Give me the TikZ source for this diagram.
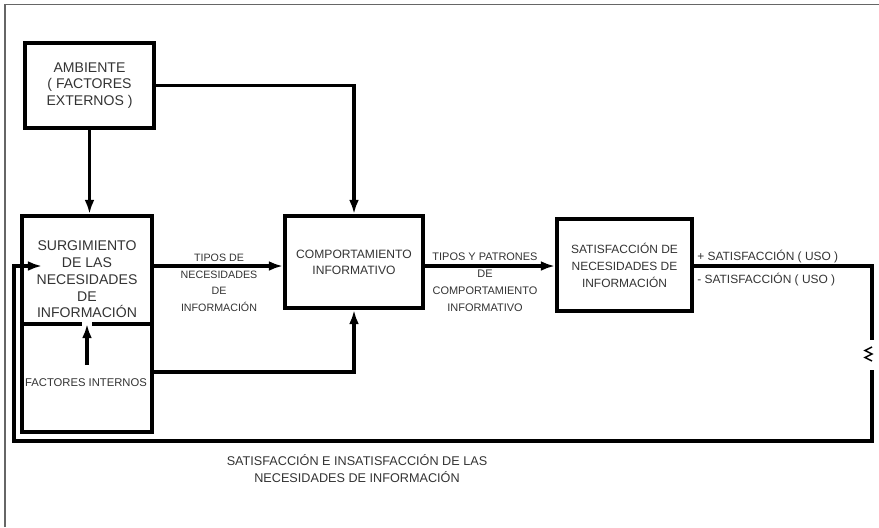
\documentclass[tikz,border=0pt]{standalone}
\usepackage{fontspec}
\setmainfont{Liberation Sans}
\usetikzlibrary{arrows.meta}

\begin{document}
\begin{tikzpicture}[x=0.025cm,y=-0.025cm]
\tikzstyle{caja}=[rectangle,draw=black,line width=2.9pt,inner sep=0pt]
\tikzstyle{txt}=[text=black!80,align=center,font=\fontsize{8.5}{12}\selectfont]
\tikzstyle{txtg}=[txt,font=\fontsize{10}{11.9}\selectfont]
\tikzstyle{con}=[line width=2.3pt,draw=black]
\tikzstyle{flecha}=[con,-{Latex[length=10pt,width=7pt]}]
\tikzstyle{marco}=[line width=1pt,draw=black!60]
\useasboundingbox (0,0) rectangle (879,527);
\draw[marco] (5,527) -- (5,4.5) -- (879,4.5);
\node (amb) [caja,txtg,minimum width=3.225cm,minimum height=2.125cm] at (89.5,85.5) {AMBIENTE\\( FACTORES\\EXTERNOS )};
\node (surg) [caja,minimum width=3.25cm,minimum height=5.4cm] at (87,324) {};
\node (nec) [txtg] at (87,279.5) {SURGIMIENTO\\DE LAS\\NECESIDADES\\DE\\INFORMACIÓN};
\node (int) [txt,font=\fontsize{8}{10}\selectfont] at (86,383) {FACTORES INTERNOS};
\node (comp) [caja,txt,font=\fontsize{8.6}{11.4}\selectfont,minimum width=3.45cm,minimum height=2.3cm] at (354,262) {COMPORTAMIENTO\\INFORMATIVO};
\node (sat) [caja,txt,minimum width=3.375cm,minimum height=2.3cm] at (624.5,265) {SATISFACCIÓN DE\\NECESIDADES DE\\INFORMACIÓN};
\node (tn) [txt,font=\fontsize{7.6}{11.8}\selectfont] at (219,283) {TIPOS DE\\NECESIDADES\\DE\\INFORMACIÓN};
\node (tp) [txt,font=\fontsize{7.8}{12.2}\selectfont] at (485,282) {TIPOS Y PATRONES\\DE\\COMPORTAMIENTO\\INFORMATIVO};
\node (mas) [txt,anchor=west,inner sep=0pt] at (697,257) {+ SATISFACCIÓN ( USO )};
\node (menos) [txt,anchor=west,inner sep=0pt] at (697,280) {- SATISFACCIÓN ( USO )};
\node (ins) [txt,font=\fontsize{9}{12}\selectfont] at (357,468.5) {SATISFACCIÓN E INSATISFACCIÓN DE LAS\\NECESIDADES DE INFORMACIÓN};
\coordinate (c1) at (872,340);
\coordinate (zig) at (872,347);
\coordinate (c2) at (872,370);
\coordinate (ret) at (14,441);
\coordinate (ent) at (42,266);
\draw[line width=3.4pt] (surg.west) -- ([xshift=-0.13cm]surg.center) ([xshift=0.13cm]surg.center) -- (surg.east);
\draw[flecha] (amb.south) -- (amb.south |- surg.north);
\draw[flecha] (amb.east) -| (comp.north);
\draw[flecha] (surg.east |- ent) -- (comp.west |- ent);
\draw[flecha] ([yshift=-1.025cm]surg.center) -- (surg.center);
\draw[flecha] ([yshift=-1.2cm]surg.east) -| (comp.south);
\draw[flecha] (comp.east |- ent) -- (sat.west |- ent);
\draw[con] (sat.east |- ent) -| (c1);
\draw[line width=1pt] (zig) -- ++(-7,3.5) -- ++(7,3.5) -- ++(-7,3.5) -- ++(7,3.5);
\draw[flecha] (c2) |- (ret) |- (ent);
\end{tikzpicture}
\end{document}
